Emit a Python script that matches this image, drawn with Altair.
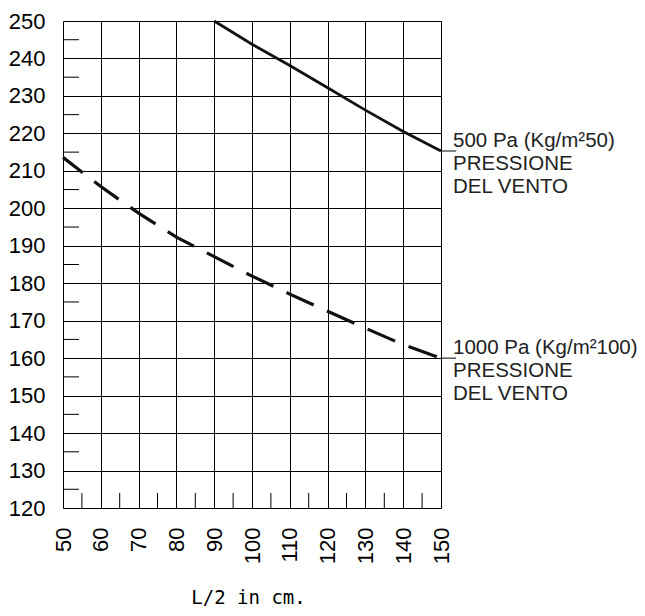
import altair as alt
import pandas as pd

# ---- data ----
x_ticks = list(range(50, 151, 10))
y_ticks = list(range(120, 251, 10))
x_minor = list(range(55, 150, 10))
y_minor = list(range(125, 250, 10))

solid_x = [90, 100, 110, 120, 130, 140, 150]
solid_y = [250, 243.8, 238.1, 232.2, 226.2, 220.5, 215.3]

dash_x = [50, 60, 70, 80, 90, 100, 110, 120, 130, 140, 150]
dash_y = [213.6, 205.8, 198.7, 192.3, 187.1, 181.9, 177.1, 172.5, 168.0, 163.6, 160.0]

label_500 = "500 Pa (Kg/m²50)\nPRESSIONE\nDEL VENTO"
label_1000 = "1000 Pa (Kg/m²100)\nPRESSIONE\nDEL VENTO"
label_x = [150, 150]
label_y = [215.3, 160.0]
leader_x2 = [154, 154]
x_title = "L/2 in cm."

W, H = 378, 487

xs = alt.Scale(domain=[50, 150], nice=False, zero=False)
ys = alt.Scale(domain=[120, 250], nice=False, zero=False)

x_axis = alt.Axis(values=x_ticks, grid=True, gridColor="black", gridWidth=1,
                  ticks=False, domain=False, labelAngle=270, labelOverlap=False,
                  labelFlush=False, labelBound=False,
                  labelFont="Liberation Sans", labelFontSize=22, labelColor="black",
                  labelPadding=19, title=x_title, titleFont="DejaVu Sans Mono",
                  titleFontSize=19, titleFontWeight="normal", titleColor="black",
                  titleY=95, titleBaseline="alphabetic", titleX=185, titleAlign="center")
y_axis = alt.Axis(values=y_ticks, grid=True, gridColor="black", gridWidth=1,
                  ticks=False, domain=False, labelOverlap=False,
                  labelFlush=False, labelBound=False,
                  labelFont="Liberation Sans", labelFontSize=22, labelColor="black",
                  labelPadding=18, title=None)


def X(f):
    return alt.X(f, scale=xs, axis=x_axis)


def Y(f):
    return alt.Y(f, scale=ys, axis=y_axis)


solid_df = pd.DataFrame({"x": solid_x, "y": solid_y})
dash_df = pd.DataFrame({"x": dash_x, "y": dash_y})

solid = alt.Chart(solid_df).mark_line(color="#111", strokeWidth=2.8).encode(
    x=X("x:Q"), y=Y("y:Q"),
)
dashed = alt.Chart(dash_df).mark_line(color="#111", strokeWidth=3.2,
                                      strokeDash=[30, 14.5], strokeDashOffset=5).encode(
    x=X("x:Q"), y=Y("y:Q"),
)

left_ticks = alt.Chart(pd.DataFrame({"y": y_minor})).mark_rule(color="black", strokeWidth=1).encode(
    y=Y("y:Q"), x=alt.value(0), x2=alt.value(16)
)
bottom_ticks = alt.Chart(pd.DataFrame({"x": x_minor})).mark_rule(color="black", strokeWidth=1).encode(
    x=X("x:Q"), y=alt.value(H - 15), y2=alt.value(H)
)

ann_df = pd.DataFrame({"x": label_x, "x2": leader_x2, "y": label_y, "t": [label_500, label_1000]})
leaders = alt.Chart(ann_df).mark_rule(color="black", strokeWidth=1).encode(
    x=X("x:Q"), x2="x2:Q", y=Y("y:Q")
)
texts = alt.Chart(ann_df).mark_text(align="left", baseline="alphabetic", dx=12, dy=-4,
                                    fontSize=20.5, font="Liberation Sans", lineHeight=23,
                                    lineBreak="\n", color="#222").encode(
    x=X("x:Q"), y=Y("y:Q"), text="t:N"
)

chart = alt.layer(solid, dashed, left_ticks, bottom_ticks, leaders, texts).properties(
    width=W, height=H,
    autosize=alt.AutoSizeParams(type="none"),
    padding={"left": 55, "top": 13, "right": 196, "bottom": 100},
).configure_view(stroke="black", strokeWidth=1.5).configure(background="white")

chart.save("out.html", embed_options={"renderer": "svg", "actions": False})
